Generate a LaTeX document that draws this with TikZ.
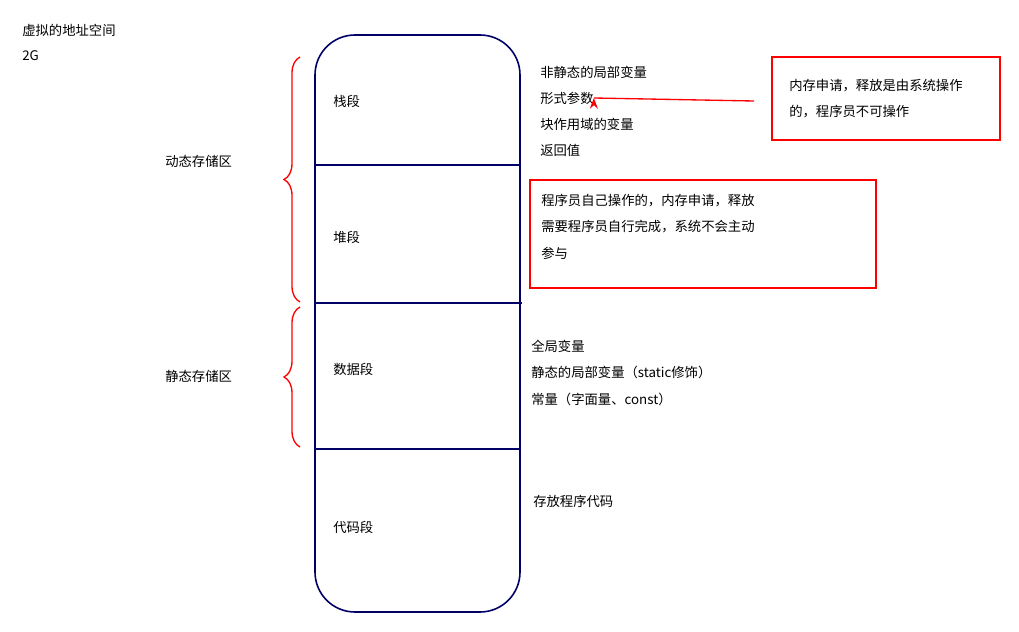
\documentclass[tikz,border=0pt]{standalone}
\usepackage{fontspec}
\setmainfont{Noto Sans CJK SC}
\usetikzlibrary{decorations.pathreplacing,arrows.meta}
\begin{document}
\begin{tikzpicture}[x=0.75pt, y=-0.75pt, font=\fontsize{10}{12}\selectfont]

\tikzstyle{txt}=[anchor=west, inner sep=0pt]
\tikzstyle{seg}=[draw=blue!40!black, line width=1.2pt]
\tikzstyle{hinweis}=[draw=red, line width=1pt]
\tikzstyle{klammer}=[draw=red, line width=1pt, decorate, decoration={brace, amplitude=12pt}]

\useasboundingbox (0,0) rectangle (1019,631);

\node[txt] (titel) at (22,30) {虚拟的地址空间};
\node[txt] (groesse) at (22,56) {2G};

% speicher
\draw[seg, rounded corners=30pt] (315,35) rectangle (520,612);
\coordinate (a1) at (315,165); \coordinate (a2) at (520,165);
\coordinate (b1) at (315,303); \coordinate (b2) at (522,303);
\coordinate (c1) at (315,449); \coordinate (c2) at (520,449);
\draw[seg] (a1) -- (a2);
\draw[seg] (b1) -- (b2);
\draw[seg] (c1) -- (c2);

\node[txt] (stack) at (333,101) {栈段};
\node[txt] (heap) at (333,237) {堆段};
\node[txt] (data) at (333,369) {数据段};
\node[txt] (code) at (333,527) {代码段};

% stack texte
\node[txt] (s1) at (540,72) {非静态的局部变量};
\node[txt] (s2) at (540,98) {形式参数};
\node[txt] (s3) at (540,124) {块作用域的变量};
\node[txt] (s4) at (540,150) {返回值};

\draw[hinweis] (772,57) rectangle (1000,140);
\node[txt] (sys1) at (789,86) {内存申请，释放是由系统操作};
\node[txt] (sys2) at (789,112) {的，程序员不可操作};
\coordinate (pfeil) at (754,101);
\draw[hinweis, -{Stealth[length=8pt]}] (pfeil) -- (s2.east) ++(0,0);

\draw[hinweis] (530,180) rectangle (876,288);
\node[txt] (h1) at (541,201) {程序员自己操作的，内存申请，释放};
\node[txt] (h2) at (541,227) {需要程序员自行完成，系统不会主动};
\node[txt] (h3) at (541,253) {参与};

\node[txt] (d1) at (531,346) {全局变量};
\node[txt] (d2) at (531,372) {静态的局部变量（static修饰）};
\node[txt] (d3) at (531,399) {常量（字面量、const）};

\node[txt] (c) at (533,501) {存放程序代码};

% klammern
\coordinate (k1) at (300,302); \coordinate (k2) at (300,57);
\coordinate (k3) at (300,447); \coordinate (k4) at (300,307);
\draw[klammer] (k1) -- (k2);
\draw[klammer] (k3) -- (k4);
\node[txt] (dyn) at (165,161) {动态存储区};
\node[txt] (stat) at (165,376) {静态存储区};

\end{tikzpicture}
\end{document}
